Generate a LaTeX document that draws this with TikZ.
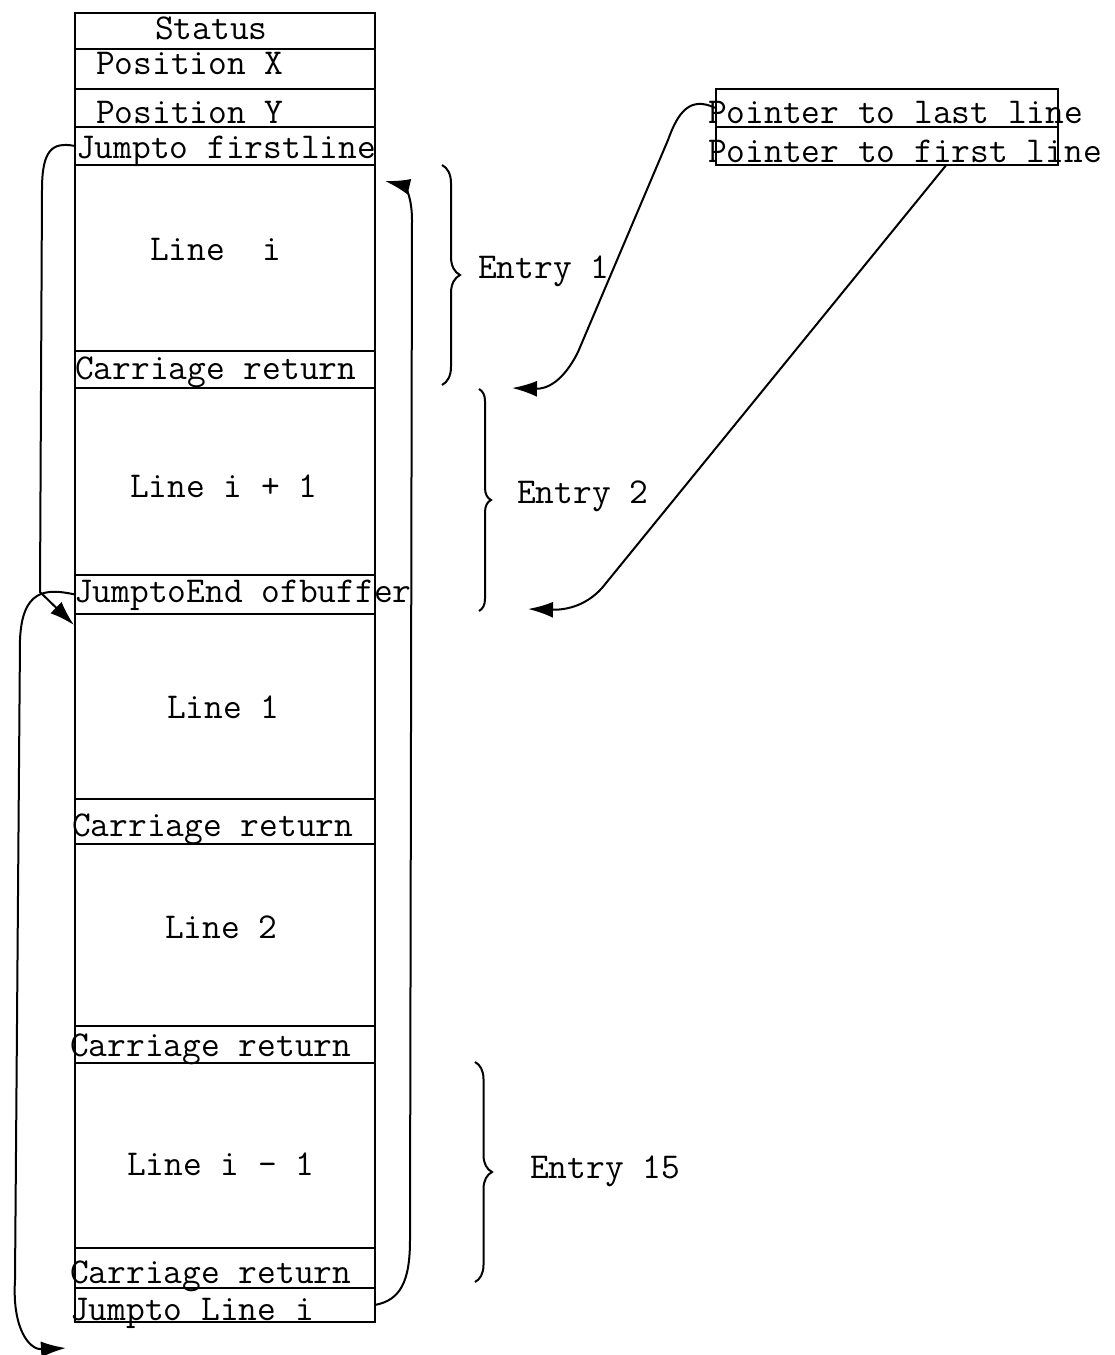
\documentclass[tikz,border=0pt]{standalone}
\usetikzlibrary{arrows.meta,decorations.pathreplacing}
\tikzset{
  cell/.style={draw=black,line width=1.6pt,anchor=north west,minimum width=300pt,inner sep=0pt},
  ptrcell/.style={cell,minimum width=342pt,minimum height=38pt},
  txt/.style={anchor=base west,inner sep=0pt,font=\ttfamily\fontsize{36.4}{40}\selectfont},
  flow/.style={-{Latex[length=25pt,width=16pt]},line width=2pt,draw=black},
  brc/.style={draw=black,line width=2pt,decorate,decoration={brace,amplitude=#1}}
}

\begin{document}
\begin{tikzpicture}[x=1pt,y=-1pt]
  \useasboundingbox (0,0) rectangle (1115,1355);
  % buffer column
  \node[cell,minimum height=36pt] (status) at (74,12) {};
  \node[cell,minimum height=40pt] (posx) at (74,48) {};
  \node[cell,minimum height=38pt] (posy) at (74,88) {};
  \node[cell,minimum height=38pt] (jfirst) at (74,126) {};
  \node[cell,minimum height=186pt] (linei) at (74,164) {};
  \node[cell,minimum height=37pt] (cri) at (74,350) {};
  \node[cell,minimum height=187pt] (lineip) at (74,387) {};
  \node[cell,minimum height=39pt] (jend) at (74,574) {};
  \node[cell,minimum height=185pt] (lineone) at (74,613) {};
  \node[cell,minimum height=45pt] (crone) at (74,798) {};
  \node[cell,minimum height=182pt] (linetwo) at (74,843) {};
  \node[cell,minimum height=37pt] (crtwo) at (74,1025) {};
  \node[cell,minimum height=185pt] (lineim) at (74,1062) {};
  \node[cell,minimum height=40pt] (crim) at (74,1247) {};
  \node[cell,minimum height=34pt] (jline) at (74,1287) {};
  % pointers
  \node[ptrcell] (lastptr) at (715,88) {};
  \node[ptrcell] (firstptr) at (715,126) {};
  % texts
  \node[txt] (tstatus) at (155,39) {Status};
  \node[txt] (tposx) at (96,74) {Position X};
  \node[txt] (tposy) at (96,123) {Position Y};
  \node[txt] (tjfirst) at (76,158) {Jumpto firstline};
  \node[txt] (tlinei) at (150,260) {Line\ \ i};
  \node[txt] (tcri) at (75,379) {Carriage return};
  \node[txt] (tlineip) at (130,497) {Line i + 1};
  \node[txt] (tjend) at (74,602) {JumptoEnd ofbuffer};
  \node[txt] (tlineone) at (167,718) {Line 1};
  \node[txt] (tcrone) at (72,836) {Carriage return};
  \node[txt] (tlinetwo) at (165,938) {Line 2};
  \node[txt] (tcrtwo) at (70,1056) {Carriage return};
  \node[txt] (tlineim) at (127,1175) {Line i - 1};
  \node[txt] (tcrim) at (70,1283) {Carriage return};
  \node[txt] (tjline) at (70,1320) {Jumpto Line i};
  \node[txt] (tlast) at (708,123) {Pointer to last line};
  \node[txt] (tfirst) at (708,162) {Pointer to first line};
  % entries
  \draw[brc=18pt] (442,165) -- (442,385);
  \draw[brc=12pt] (479,389) -- (479,611);
  \draw[brc=17pt] (475,1062) -- (475,1282);
  \node[txt] (entryone) at (478,278) {Entry 1};
  \node[txt] (entrytwo) at (517,503) {Entry 2};
  \node[txt] (entryfif) at (530,1178) {Entry 15};
  % links
  \coordinate (lasttip) at (512,388);
  \coordinate (firsttip) at (528,609);
  \coordinate (jlinetip) at (385,181);
  \coordinate (bottomtip) at (66,1348);
  \draw[flow] (lastptr.west) .. controls (690,96) and (678,112) .. (668,140)
    -- (578,352) .. controls (562,384) and (545,389) .. (lasttip);
  \draw[flow] ([xshift=59pt]firstptr.south) -- (602,588)
    .. controls (584,608) and (562,610) .. (firsttip);
  \draw[flow] (jfirst.west) .. controls (52,142) and (42,150) .. (42,190)
    -- (40,592) -- ([yshift=-12pt]lineone.north west);
  \draw[flow] (jend.west) .. controls (45,588) and (22,590) .. (20,640)
    -- (15,1280) .. controls (12,1330) and (30,1350) .. (bottomtip);
  \draw[flow] (jline.east) .. controls (400,1300) and (410,1282) .. (410,1240)
    -- (412,220) .. controls (412,192) and (402,185) .. (jlinetip);
\end{tikzpicture}
\end{document}
